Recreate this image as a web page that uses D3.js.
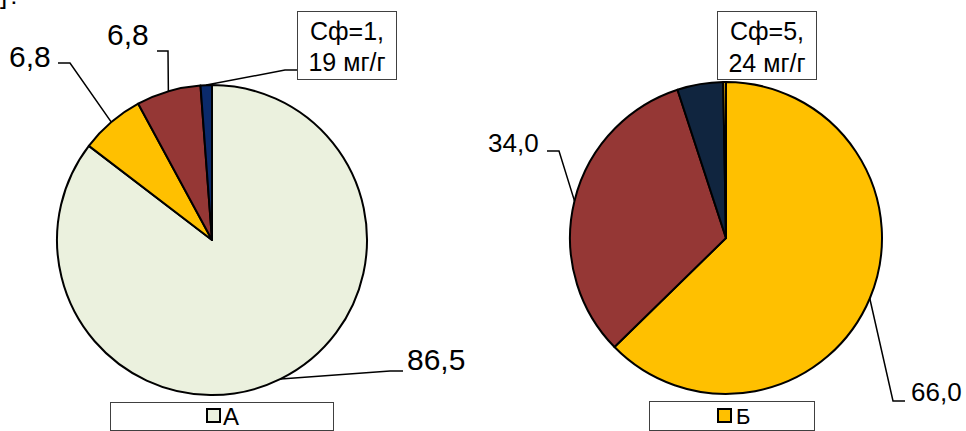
<!DOCTYPE html>
<html>
<head>
<meta charset="utf-8">
<script src="https://cdn.jsdelivr.net/npm/d3@7/dist/d3.min.js"></script>
<style>
  html, body { margin: 0; padding: 0; background: #ffffff; }
  svg { display: block; font-family: "Liberation Sans", Arial, sans-serif; }
</style>
</head>
<body>
<svg id="chart" width="966" height="431"></svg>
<script>
// ---------- data ----------
const seriesNames = ["А", "Б"];
const categories = ["фракция 1", "фракция 2", "фракция 3", "фракция 4"];
const valuesA = [86.5, 6.8, 6.8, 1.2];
const valuesB = [66.0, 34.0, 5.0, 0.3];
const labelsA = ["86,5", "6,8", "6,8", null];
const labelsB = ["66,0", "34,0", null, null];
const noteA = ["Сф=1,", "19 мг/г"];
const noteB = ["Сф=5,", "24 мг/г"];
const colorsA = ["#EBF1DE", "#FFC000", "#953735", "#0B2A6B"];
const colorsB = ["#FFC000", "#953735", "#10253F", "#FFC000"];

// ---------- layout ----------
const svg = d3.select("#chart");
const pie = d3.pie().sort(null).value(d => d);

const charts = [
  {
    name: seriesNames[0], values: valuesA, labels: labelsA, colors: colorsA, note: noteA,
    cx: 212, cy: 240, r: 155, fontSize: 30,
    leaders: [
      { elbow: [390, 371], end: [403, 371], text: [407, 370], anchor: "start" },
      { elbow: [70, 63], end: [58, 63], text: [9, 67], anchor: "start" },
      { elbow: [168, 51], end: [157, 51], text: [107, 45], anchor: "start" },
      null
    ],
    noteBox: { x: 297, y: 11, w: 99, h: 68, lines: [40, 71], fontSize: 25,
               leader: { slice: 3, elbow: [285, 70], end: [297, 70] } },
    legend: { x: 110, y: 402, w: 223, h: 28, mx: 207, my: 409, ms: 13, tx: 223, ty: 425, fontSize: 24, color: colorsA[0] }
  },
  {
    name: seriesNames[1], values: valuesB, labels: labelsB, colors: colorsB, note: noteB,
    cx: 726, cy: 238, r: 156, fontSize: 26,
    leaders: [
      { elbow: [893, 401], end: [905, 401], text: [911, 401], anchor: "start" },
      { elbow: [559, 151], end: [547, 151], text: [488, 152], anchor: "start" },
      null, null
    ],
    noteBox: { x: 717, y: 11, w: 99, h: 68, lines: [40, 72], fontSize: 25, leader: null },
    legend: { x: 649, y: 401, w: 165, h: 29, mx: 718, my: 409, ms: 13, tx: 736, ty: 424, fontSize: 22, color: colorsB[0] }
  }
];

// cut-off text fragment at top-left
svg.append("text").attr("x", 0).attr("y", 4).attr("font-size", 26)
  .attr("letter-spacing", 3).attr("fill", "#000").text("]:");

charts.forEach(c => {
  const arcs = pie(c.values);
  const arc = d3.arc().innerRadius(0).outerRadius(c.r);
  const edge = d3.arc().innerRadius(c.r).outerRadius(c.r);
  const g = svg.append("g").attr("transform", `translate(${c.cx},${c.cy})`);

  g.selectAll("path.slice").data(arcs).join("path")
    .attr("class", "slice")
    .attr("d", arc)
    .attr("fill", (d, i) => c.colors[i])
    .attr("stroke", "#000")
    .attr("stroke-width", 2)
    .attr("stroke-linejoin", "round");

  // data labels with leader lines
  arcs.forEach((d, i) => {
    const L = c.leaders[i];
    if (!L || !c.labels[i]) return;
    const p = edge.centroid(d);
    const pts = [[p[0] + c.cx, p[1] + c.cy], L.elbow, L.end];
    svg.append("path")
      .attr("d", d3.line()(pts))
      .attr("fill", "none").attr("stroke", "#000").attr("stroke-width", 1.5);
    svg.append("text")
      .attr("x", L.text[0]).attr("y", L.text[1])
      .attr("text-anchor", L.anchor)
      .attr("font-size", c.fontSize).attr("fill", "#000")
      .text(c.labels[i]);
  });

  // note box
  const nb = c.noteBox;
  if (nb.leader) {
    const d = arcs[nb.leader.slice];
    const p = edge.centroid(d);
    svg.append("path")
      .attr("d", d3.line()([[p[0] + c.cx, p[1] + c.cy], nb.leader.elbow, nb.leader.end]))
      .attr("fill", "none").attr("stroke", "#000").attr("stroke-width", 1.5);
  }
  svg.append("rect").attr("x", nb.x + 0.5).attr("y", nb.y + 0.5).attr("width", nb.w).attr("height", nb.h)
    .attr("fill", "#fff").attr("stroke", "#404040").attr("stroke-width", 1);
  c.note.forEach((t, k) => {
    svg.append("text")
      .attr("x", nb.x + nb.w / 2 + 0.5).attr("y", nb.lines[k])
      .attr("text-anchor", "middle").attr("font-size", nb.fontSize).attr("fill", "#000")
      .text(t);
  });

  // legend
  const lg = c.legend;
  svg.append("rect").attr("x", lg.x + 0.5).attr("y", lg.y + 0.5).attr("width", lg.w).attr("height", lg.h)
    .attr("fill", "#fff").attr("stroke", "#404040").attr("stroke-width", 1);
  svg.append("rect").attr("x", lg.mx).attr("y", lg.my).attr("width", lg.ms).attr("height", lg.ms)
    .attr("fill", lg.color).attr("stroke", "#000").attr("stroke-width", 2);
  svg.append("text").attr("x", lg.tx).attr("y", lg.ty)
    .attr("font-size", lg.fontSize).attr("fill", "#000").text(c.name);
});
</script>
</body>
</html>
